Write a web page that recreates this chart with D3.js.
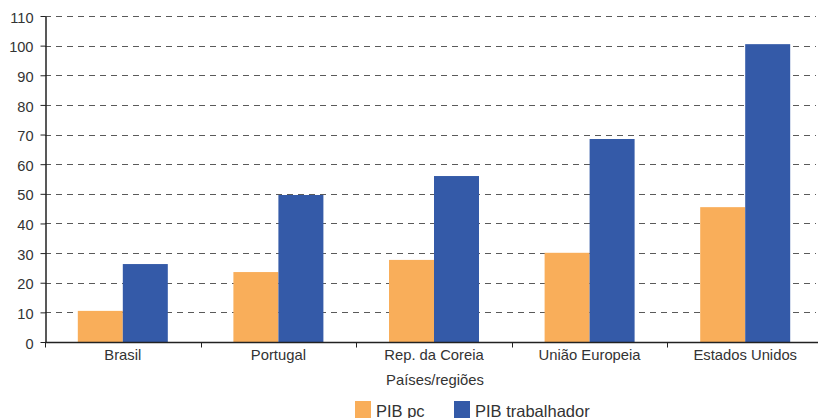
<!DOCTYPE html>
<html>
<head>
<meta charset="utf-8">
<script src="https://cdn.jsdelivr.net/npm/d3@7"></script>
<style>
  html, body { margin: 0; padding: 0; background: #fff; }
  svg { display: block; font-family: "Liberation Sans", Arial, sans-serif; }
</style>
</head>
<body>
<svg id="chart" width="818" height="418"></svg>
<script>
// Categories and series
const categories = ["Brasil", "Portugal", "Rep. da Coreia", "União Europeia", "Estados Unidos"];
const pibPc = [10.5, 23.6, 27.7, 30.1, 45.5];
const pibTrabalhador = [26.3, 49.6, 56.0, 68.5, 100.5];
const seriesNames = ["PIB pc", "PIB trabalhador"];
const seriesColors = ["#F9AE5A", "#345AA8"];
const yTicks = [0, 10, 20, 30, 40, 50, 60, 70, 80, 90, 100, 110];
const xTitle = "Países/regiões";

const svg = d3.select("#chart");
const plotLeft = 45, plotRight = 823, plotTop = 16, plotBottom = 342;

const x = d3.scaleBand().domain(categories).range([plotLeft, plotRight]).paddingInner(0).paddingOuter(0);
const groupWidth = 90;
const xs = d3.scaleBand().domain(seriesNames).range([0, groupWidth]);
const y = d3.scaleLinear().domain([0, 110]).range([plotBottom, plotTop]);

// Dashed horizontal gridlines
svg.append("g")
  .selectAll("line")
  .data(yTicks.filter(d => d > 0))
  .join("line")
  .attr("x1", plotLeft).attr("x2", 816)
  .attr("y1", d => Math.round(y(d)) + 0.5).attr("y2", d => Math.round(y(d)) + 0.5)
  .attr("stroke", "#5a5a5a")
  .attr("stroke-width", 1.2)
  .attr("stroke-dasharray", "6,5");

// Bars
const rows = categories.map((c, i) => ({ c, vals: [pibPc[i], pibTrabalhador[i]] }));
const groups = svg.append("g").selectAll("g")
  .data(rows)
  .join("g")
  .attr("transform", d => `translate(${x(d.c) + (x.bandwidth() - groupWidth) / 2},0)`);
groups.selectAll("rect")
  .data(d => d.vals.map((v, k) => ({ v, k })))
  .join("rect")
  .attr("x", d => xs(seriesNames[d.k]))
  .attr("width", xs.bandwidth())
  .attr("y", d => y(d.v))
  .attr("height", d => y(0) - y(d.v))
  .attr("fill", d => seriesColors[d.k]);

// Y axis
const yAxis = svg.append("g")
  .attr("transform", `translate(${plotLeft + 0.5},0)`)
  .call(d3.axisLeft(y).tickValues(yTicks).tickSize(5).tickPadding(7).tickSizeOuter(0));
yAxis.select(".domain").attr("stroke", "#222").attr("stroke-width", 1.5);
yAxis.selectAll(".tick line").attr("stroke", "#222");
yAxis.selectAll("text").attr("font-size", 14.6).attr("fill", "#333")
  .attr("dy", "0.42em")
  .attr("font-family", "Liberation Sans, Arial, sans-serif");

// X axis with ticks at category boundaries
const xAxisG = svg.append("g").attr("transform", `translate(0,${plotBottom + 0.5})`);
xAxisG.append("line")
  .attr("x1", plotLeft).attr("x2", 818)
  .attr("stroke", "#222").attr("stroke-width", 1.5);
xAxisG.selectAll("line.bt")
  .data(categories)
  .join("line")
  .attr("class", "bt")
  .attr("x1", d => Math.round(x(d)) + 0.5).attr("x2", d => Math.round(x(d)) + 0.5)
  .attr("y1", 0).attr("y2", 5)
  .attr("stroke", "#222");
xAxisG.selectAll("text")
  .data(categories)
  .join("text")
  .attr("x", d => x(d) + x.bandwidth() / 2)
  .attr("y", 17.5)
  .attr("text-anchor", "middle")
  .attr("font-size", 14.8)
  .attr("fill", "#333")
  .text(d => d);

// Axis title
svg.append("text")
  .attr("x", 435)
  .attr("y", 384.5)
  .attr("text-anchor", "middle")
  .attr("font-size", 14.8)
  .attr("fill", "#333")
  .text(xTitle);

// Legend
const legendX = [355, 454];
const legend = svg.append("g").selectAll("g")
  .data(seriesNames)
  .join("g")
  .attr("transform", (d, i) => `translate(${legendX[i]},401)`);
legend.append("rect")
  .attr("width", 16).attr("height", 17)
  .attr("fill", (d, i) => seriesColors[i]);
legend.append("text")
  .attr("x", 21).attr("y", 16)
  .attr("font-size", 16.5)
  .attr("fill", "#333")
  .text(d => d);
</script>
</body>
</html>
